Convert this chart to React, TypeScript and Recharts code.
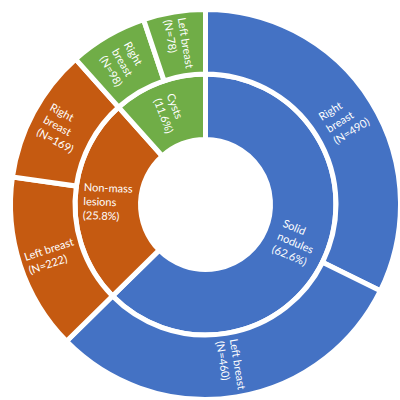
import React from 'react';
import { PieChart, Pie, Cell } from 'recharts';

const innerNames = ['Solid\nnodules', 'Non-mass\nlesions', 'Cysts'];
const innerPercents = ['62.6%', '25.8%', '11.6%'];
const innerColors = ['#4472C4', '#C55A11', '#70AD47'];

const outerNames = ['Right\nbreast', 'Left breast', 'Left breast', 'Right\nbreast', 'Right\nbreast', 'Left breast'];
const outerCounts = [490, 460, 222, 169, 98, 78];
const outerParent = [0, 0, 1, 1, 2, 2];

const FONT = 'Lato, "Open Sans", sans-serif';
const FONT_SIZE = 11;
const LINE_H = 14;

let ctx: CanvasRenderingContext2D | null = null;
function measure(s: string): number {
  if (!ctx) {
    const c = document.createElement('canvas');
    ctx = c.getContext('2d');
  }
  if (!ctx) return s.length * FONT_SIZE * 0.5;
  ctx.font = `${FONT_SIZE}px ${FONT}`;
  return ctx.measureText(s).width;
}

const outerData = outerCounts.map((v, i) => ({
  name: outerNames[i],
  value: v,
  lines: [...outerNames[i].split('\n'), `(N=${v})`],
  color: innerColors[outerParent[i]],
}));

const innerData = innerNames.map((n, i) => ({
  name: n,
  value: outerCounts.reduce((s, v, j) => (outerParent[j] === i ? s + v : s), 0),
  lines: [...n.split('\n'), `(${innerPercents[i]})`],
  color: innerColors[i],
}));

const RAD = Math.PI / 180;

const renderLabel = (props: any) => {
  const { cx, cy, midAngle, innerRadius, outerRadius, payload } = props;
  const lines: string[] = payload.lines || (payload.payload && payload.payload.lines) || [];
  const r = (innerRadius + outerRadius) / 2;
  const x = cx + r * Math.cos(-midAngle * RAD);
  const y = cy + r * Math.sin(-midAngle * RAD);
  let rot = ((-midAngle % 360) + 360) % 360;
  if (rot > 90 && rot <= 270) rot -= 180;
  else if (rot > 270) rot -= 360;
  const w = Math.max(...lines.map(measure));
  const n = lines.length;
  return (
    <g transform={`translate(${x},${y}) rotate(${rot})`}>
      {lines.map((l, i) => (
        <text
          key={i}
          x={-w / 2}
          y={(i - (n - 1) / 2) * LINE_H}
          textAnchor="start"
          dominantBaseline="central"
          fill="#fff"
          fontSize={FONT_SIZE}
          fontFamily={FONT}
        >
          {l}
        </text>
      ))}
    </g>
  );
};

export default function App() {
  return (
    <div style={{ position: 'absolute', left: 0, top: 0, width: 400, height: 400, background: '#fff' }}>
      <PieChart width={400} height={400}>
        <Pie
          data={innerData}
          dataKey="value"
          cx={200.5}
          cy={199.5}
          innerRadius={65}
          outerRadius={130.5}
          startAngle={90}
          endAngle={-270}
          stroke="#fff"
          strokeWidth={5}
          label={renderLabel}
          labelLine={false}
          isAnimationActive={false}
        >
          {innerData.map((d, i) => (
            <Cell key={i} fill={d.color} />
          ))}
        </Pie>
        <Pie
          data={outerData}
          dataKey="value"
          cx={200.5}
          cy={199.5}
          innerRadius={130.5}
          outerRadius={195}
          startAngle={90}
          endAngle={-270}
          stroke="#fff"
          strokeWidth={5}
          label={renderLabel}
          labelLine={false}
          isAnimationActive={false}
        >
          {outerData.map((d, i) => (
            <Cell key={i} fill={d.color} />
          ))}
        </Pie>
      </PieChart>
    </div>
  );
}
